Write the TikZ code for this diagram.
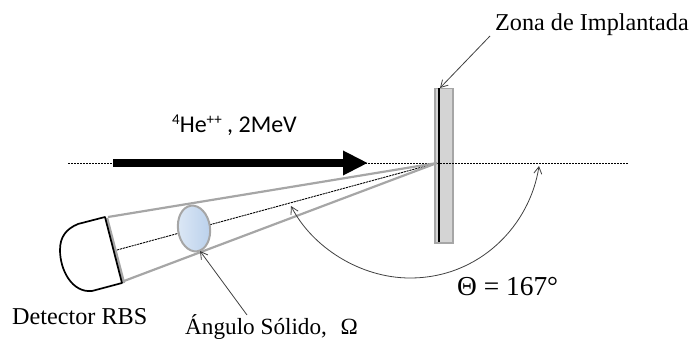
\documentclass[tikz,border=0pt]{standalone}
\usepackage{fontspec}
\setmainfont{Liberation Serif}
\newfontfamily\calibrifont{Carlito}
\usetikzlibrary{arrows.meta,shapes.geometric}
\definecolor{gline}{HTML}{A6A6A6}
\definecolor{plate}{HTML}{D4D4D4}
\definecolor{lensA}{HTML}{DDE8F5}
\definecolor{lensB}{HTML}{B9D0EC}
\tikzset{
  lbl/.style={inner sep=0pt,font=\fontsize{24.2}{28}\selectfont,anchor=base west},
  beam/.style={line width=0.9pt,dash pattern=on 2.2pt off 0.8pt},
  cone/.style={gline,line width=2.2pt},
  thinarrow/.style={draw=black!75,line width=0.8pt,-{Straight Barb[length=7pt,width=8pt]}},
  twoarrow/.style={draw=black!75,line width=0.8pt,{Straight Barb[length=7pt,width=8pt]}-{Straight Barb[length=7pt,width=8pt]}}
}
\begin{document}
\begin{tikzpicture}[x=1pt,y=-1pt]
\useasboundingbox (0,0) rectangle (691,339);
\coordinate (beamL) at (68,163);
\coordinate (beamR) at (628,163);
\coordinate (hit) at (437,163);
\coordinate (detTop) at (105,217);
\coordinate (detBot) at (122,283);
\coordinate (detMid) at (117,250);
\coordinate (coneT) at (108,217);
\coordinate (coneB) at (124,281);
\coordinate (arrowS) at (113,163);
\coordinate (arrowE) at (368,163);
\coordinate (plateTop) at (440,88);
\coordinate (plateBot) at (439,242);
\coordinate (lensBot) at (200,251);
\coordinate (arcS) at (291,206);
\coordinate (arcE) at (539,166);
\coordinate (zonaFoot) at (490,36);
\coordinate (angFoot) at (247,315);
\draw[gline,line width=1.2pt,fill=plate] (435,88.5) rectangle (453,243);
\draw[beam] (beamL) -- (beamR);
\draw[beam] (detMid) -- (hit);
\draw[cone] (coneT) -- (hit);
\draw[cone] (coneB) -- (hit);
\node[draw=gline,line width=2pt,left color=lensA,right color=lensB,ellipse,minimum width=32pt,minimum height=46pt,inner sep=0pt,rotate=8] (lensN) at (194,228.5) {};
\draw[line width=1.5pt] (plateBot|-plateTop) -- (plateBot);
\draw[line width=8pt,-{Triangle[length=25pt,width=23pt]}] (arrowS) -- (arrowE);
\draw[gline,line width=2.5pt] (107,218) -- (124,283);
\draw[line width=1.7pt,line join=round] (detTop) -- (detBot) -- (92,291)
  .. controls (72,293) and (60,270) .. (60,250)
  .. controls (60,237) and (66,229) .. (78,224) -- cycle;
\node[lbl] (zona) at (495,31) {Zona de Implantada};
\node[lbl] (det) at (12,324) {Detector RBS};
\node[lbl,font=\fontsize{23.2}{28}\selectfont] (ang) at (185,334) {Ángulo Sólido,\,\, Ω};
\node[inner sep=0pt,anchor=base west,font=\fontsize{27.4}{32}\selectfont] (theta) at (457,295) {Θ = 167°};
\node[inner sep=0pt,anchor=base west,font=\calibrifont\fontsize{24}{28}\selectfont] (he) at (172,133) {\raisebox{8pt}{\fontsize{15}{18}\selectfont 4}He\raisebox{8pt}{\fontsize{15}{18}\selectfont ++} , 2MeV};
\draw[thinarrow] (zonaFoot) -- (plateTop);
\draw[thinarrow] (angFoot) -- (lensBot);
\draw[twoarrow] (arcS) .. controls (312,247) and (360,278) .. (410,278)
  .. controls (480,278) and (530,225) .. (arcE);
\end{tikzpicture}
\end{document}
